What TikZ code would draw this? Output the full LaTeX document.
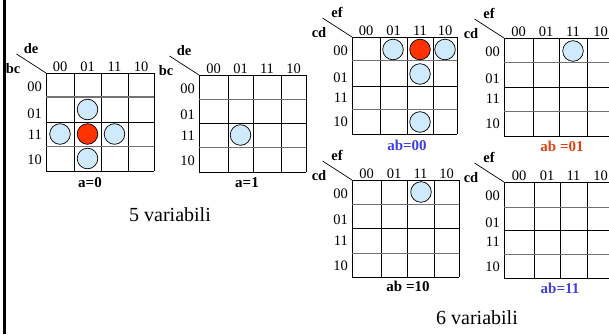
\documentclass[tikz,border=0pt]{standalone}
\usepackage{fontspec}
\setmainfont{Liberation Serif}
\definecolor{cfill}{RGB}{206,234,252}
\definecolor{cred}{RGB}{255,51,0}
\definecolor{lblue}{RGB}{64,64,224}
\definecolor{lred}{RGB}{221,68,17}
\tikzset{
  gridk/.style={black,line width=0.9pt},
  gridg/.style={black!55,line width=1pt},
  diag/.style={black,line width=0.7pt},
  hdr/.style={font=\fontsize{14.5}{14.5}\selectfont,inner sep=0pt,anchor=base},
  rowl/.style={font=\fontsize{14.5}{14.5}\selectfont,inner sep=0pt,anchor=east},
  var/.style={font=\bfseries\fontsize{14.5}{14.5}\selectfont,inner sep=0pt},
  blab/.style={font=\bfseries\fontsize{15}{15}\selectfont,inner sep=0pt},
  capt/.style={font=\fontsize{20}{20}\selectfont,inner sep=0pt},
  onec/.style={circle,draw=black,fill=cfill,minimum size=20.6pt,inner sep=0pt,line width=0.7pt},
  redc/.style={onec,fill=cred}
}
\newcommand{\kmap}[9]{%
  \coordinate (#1nw) at (#4,#5);
  \coordinate (#1se) at (#6,#7);
  \foreach \a/\b/\t [count=\i] in {#2} {
    \draw[gridk] (\a,#5) -- (\a,#7);
    \node[hdr] (#1c\i) at ({(\a+\b)/2},{#5-1.5}) {\t};
  }
  \draw[gridk] (#1nw -| #1se) -- (#1se);
  \foreach \a/\b/\t/\d [count=\i] in {#3} {
    \ifodd\i \draw[gridk] (#4,\a) -- (#6,\a); \else \draw[gridg] (#4,\a) -- (#6,\a); \fi
    \node[rowl] (#1r\i) at ({#4-4},{(\a+\b)/2+\d}) {\t};
  }
  \draw[gridk] (#1nw |- #1se) -- (#1se);
  \coordinate (#1dg) at ({#4-29.5},{#5-19});
  \draw[diag] (#1dg) -- (#1nw);
  \node[var] (#1tv) at ({#4-15},{#5-24.5}) {#8};
  \node[var] (#1lv) at ({#4-33},{#5-4}) {#9};
}
\begin{document}
\begin{tikzpicture}[x=1pt,y=-1pt]
\useasboundingbox (0,0) rectangle (609,334);
\clip (0,0) rectangle (609,334);
\fill[white] (0,0) rectangle (609,334);
\coordinate (bt) at (4.5,0);
\coordinate (bb) at (4.5,334);
\draw[line width=2.4pt] (bt) -- (bb);
% map 1
\kmap{ma}{46/74/00,74/101/01,101/128/11,128/154/10}{73/97/00/1.5,97/122/01/4,122/146/11/1,146/171/10/1}{46}{73}{154}{171}{de}{bc}
\node[onec] (ma1) at (87.5,109.5) {};
\node[onec] (ma2) at (60,134) {};
\node[redc] (ma3) at (87.5,134) {};
\node[onec] (ma4) at (114.5,134) {};
\node[onec] (ma5) at (87.5,158.5) {};
\node[blab] (mal) at (90,183) {a=0};
% map 2
\kmap{mb}{199/228/00,228/253/01,253/281/11,281/306/10}{75/99/00/1.5,99/123/01/4,123/147/11/1,147/172/10/1}{199}{75}{306}{172}{de}{bc}
\node[onec] (mb1) at (240.5,135) {};
\node[blab] (mbl) at (247,183) {a=1};
\node[capt] (c5) at (170,215) {5 variabili};
% map 3
\kmap{mc}{352/380/00,380/407/01,407/433/11,433/457/10}{37/61/00/1.5,61/86/01/4,86/109/11/0,109/134/10/0.5}{352}{37}{457}{134}{ef}{cd}
\node[onec] (mc1) at (393,49.5) {};
\node[redc] (mc2) at (420,49.5) {};
\node[onec] (mc3) at (445,49.5) {};
\node[onec] (mc4) at (420,74) {};
\node[onec] (mc5) at (420,122) {};
\node[blab,text=lblue] (mcl) at (407,145) {ab=00};
% map 4
\kmap{md}{504/533/00,533/559/01,559/587/11,587/614/10}{38/63/00/1.5,63/87/01/4,87/111/11/0,111/136/10/0.5}{504}{38}{614}{136}{ef}{cd}
\node[onec] (md1) at (573,51) {};
\node[blab,text=lred] (mdl) at (562,146) {ab =01};
% map 5
\kmap{me}{352/381/00,381/407/01,407/434/11,434/459/10}{180/204/00/1.5,204/228/01/4,228/253/11/0,253/277/10/0.5}{352}{180}{459}{277}{ef}{cd}
\node[onec] (me1) at (421,192) {};
\node[blab] (mel) at (408,286.5) {ab =10};
% map 6
\kmap{mf}{504/534/00,534/560/01,560/587/11,587/614/10}{182/207/00/1.5,207/230/01/4,230/254/11/0,254/278/10/0.5}{504}{182}{614}{278}{ef}{cd}
\node[blab,text=lblue] (mfl) at (560,288.5) {ab=11};
\node[capt] (c6) at (477,318) {6 variabili};
\end{tikzpicture}
\end{document}
